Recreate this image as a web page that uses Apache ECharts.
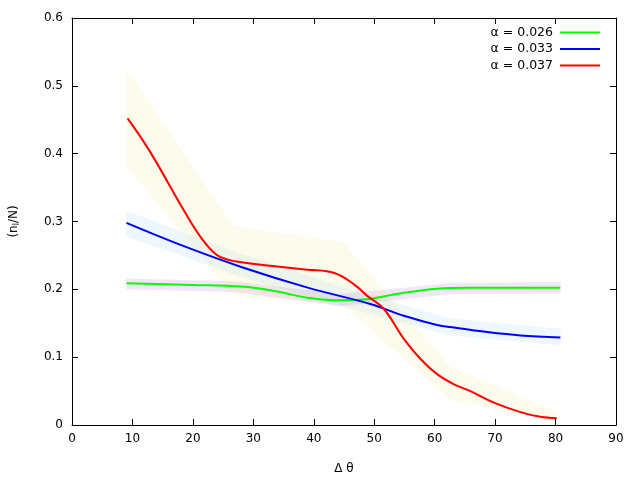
<!DOCTYPE html>
<html>
<head>
<meta charset="utf-8">
<script src="https://cdn.jsdelivr.net/npm/echarts@6/dist/echarts.min.js"></script>
<style>html,body{margin:0;padding:0;background:#fff}#c{width:640px;height:480px}</style>
</head>
<body>
<div id="c"></div>
<script>
// ---- data ----
const xTicks = [0, 10, 20, 30, 40, 50, 60, 70, 80, 90];
const yTicks = [0, 0.1, 0.2, 0.3, 0.4, 0.5, 0.6];

const names = ['α = 0.026', 'α = 0.033', 'α = 0.037'];

const greenX = [9.0, 20.0, 28.0, 33.5, 39.0, 44.5, 48.9, 51.1, 54.9, 60.4, 65.9, 80.8];
const greenY = [0.2088, 0.2064, 0.204, 0.1975, 0.1877, 0.1838, 0.1853, 0.1887, 0.195, 0.201, 0.2025, 0.2025];

const blueX = [9.0, 18.4, 28.0, 39.0, 49.5, 54.9, 60.4, 63.2, 68.7, 74.2, 80.8];
const blueY = [0.298, 0.264, 0.233, 0.2025, 0.178, 0.161, 0.1475, 0.1436, 0.137, 0.132, 0.129];

const redX = [9.2, 12.9, 18.4, 21.2, 23.9, 26.1, 28.0, 33.5, 39.0, 43.4, 46.7, 48.9, 51.6, 54.9, 57.7, 60.4, 63.2, 65.9, 69.8, 74.2, 77.5, 80.2];
const redY = [0.452, 0.403, 0.318, 0.278, 0.251, 0.243, 0.240, 0.234, 0.229, 0.224, 0.207, 0.190, 0.171, 0.127, 0.097, 0.075, 0.060, 0.050, 0.033, 0.019, 0.012, 0.010];

// uncertainty bands (x, low, high)
const greenBandX = [9.0, 26.75, 44.5, 62.4, 80.8];
const greenBandLo = [0.200, 0.196, 0.175, 0.1926, 0.194];
const greenBandHi = [0.216, 0.212, 0.193, 0.2088, 0.2108];

const blueBandX = [9.0, 26.75, 44.5, 62.5, 80.8];
const blueBandLo = [0.278, 0.222, 0.175, 0.132, 0.1176];
const blueBandHi = [0.316, 0.256, 0.205, 0.157, 0.142];

const redBandX = [9.0, 26.75, 44.8, 62.4, 80.2];
const redBandLo = [0.383, 0.190, 0.178, 0.038, 0.005];
const redBandHi = [0.524, 0.293, 0.2696, 0.0873, 0.019];

// ---- build ----
const zip = (xs, ys) => xs.map((x, i) => [x, ys[i]]);
const FONT = 'DejaVu Sans';

function band(xs, lo, hi, color) {
  return {
    type: 'custom', silent: true, clip: true, z: 1,
    data: xs.map((x, i) => [x, lo[i], hi[i]]),
    encode: { x: 0, y: [1, 2] },
    renderItem: function (params, api) {
      if (params.dataIndex !== 0) return null;
      const pts = [];
      for (let i = 0; i < xs.length; i++) pts.push(api.coord([xs[i], hi[i]]));
      for (let i = xs.length - 1; i >= 0; i--) pts.push(api.coord([xs[i], lo[i]]));
      return {
        type: 'polygon',
        shape: { points: pts },
        style: { fill: color, opacity: 0.1 }
      };
    }
  };
}

function line(name, xs, ys, color, sm) {
  return {
    name: name, type: 'line', data: zip(xs, ys), symbol: 'none', smooth: sm,
    lineStyle: { color: color, width: 2 }, itemStyle: { color: color }, z: 3
  };
}

const chart = echarts.init(document.getElementById('c'), null, { renderer: 'canvas' });

const axisCommon = {
  axisLine: { show: true, onZero: false, lineStyle: { color: '#000', width: 1 } },
  axisTick: { show: true, inside: true, length: 6, lineStyle: { color: '#000' } },
  splitLine: { show: false }
};

chart.setOption({
  animation: false,
  backgroundColor: '#fff',
  textStyle: { fontFamily: FONT },
  grid: { left: 70, right: 24, top: 18, bottom: 54, containLabel: false },
  legend: {
    data: names, orient: 'vertical', right: 35, top: 21, align: 'right',
    icon: 'rect', itemWidth: 40, itemHeight: 2, itemGap: 3.5,
    textStyle: { fontFamily: FONT, fontSize: 12.5, color: '#000', padding: [0, 2, 0, 0] }
  },
  xAxis: [
    Object.assign({
      type: 'value', min: xTicks[0], max: xTicks[xTicks.length - 1], interval: 10,
      name: 'Δ θ', nameLocation: 'middle', nameGap: 38,
      nameTextStyle: { fontFamily: FONT, fontSize: 12, color: '#000' },
      axisLabel: { margin: 8, color: '#000', fontFamily: FONT, fontSize: 12 }
    }, axisCommon),
    Object.assign({
      type: 'value', position: 'top', min: xTicks[0], max: xTicks[xTicks.length - 1], interval: 10,
      axisLabel: { show: false }
    }, axisCommon)
  ],
  yAxis: [
    Object.assign({
      type: 'value', min: yTicks[0], max: yTicks[yTicks.length - 1], interval: 0.1,
      name: '(n{sub|l}/N)', nameLocation: 'middle', nameGap: 52, nameRotate: 90,
      nameTextStyle: {
        fontFamily: FONT, fontSize: 12, color: '#000',
        rich: { sub: { fontFamily: FONT, fontSize: 8, color: '#000', padding: [0, 0, -5, 0] } }
      },
      axisLabel: { margin: 9, color: '#000', fontFamily: FONT, fontSize: 12,
        formatter: v => (Math.round(v * 10) / 10).toString() }
    }, axisCommon),
    Object.assign({
      type: 'value', position: 'right', min: yTicks[0], max: yTicks[yTicks.length - 1], interval: 0.1,
      axisLabel: { show: false }
    }, axisCommon)
  ],
  series: [
    band(greenBandX, greenBandLo, greenBandHi, '#9400d3'),
    band(blueBandX, blueBandLo, blueBandHi, '#56b4e9'),
    band(redBandX, redBandLo, redBandHi, '#f0e442'),
    line(names[0], greenX, greenY, '#00ff00', 0.35),
    line(names[1], blueX, blueY, '#0000ff', 0.35),
    line(names[2], redX, redY, '#ff0000', 0.4)
  ]
});
</script>
</body>
</html>
